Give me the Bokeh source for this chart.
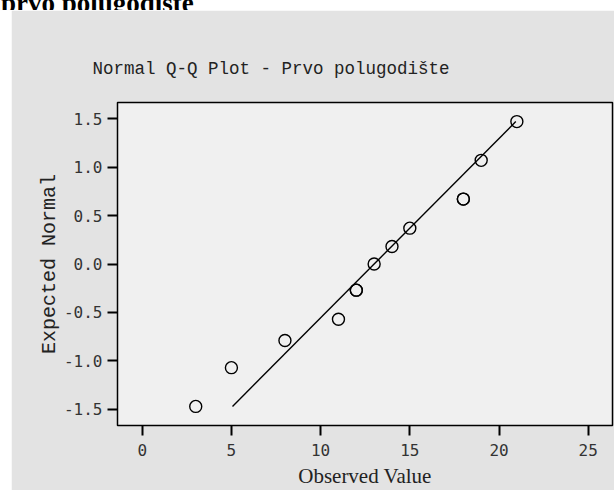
from bokeh.plotting import figure
from bokeh.models import Range1d, FixedTicker, Div, Spacer
from bokeh.layouts import column, row
from bokeh.embed import file_html
from bokeh.resources import INLINE

# ---- data ----
observed = [3, 5, 8, 11, 12, 12, 13, 14, 15, 18, 18, 19, 21]
expected = [-1.47, -1.07, -0.79, -0.57, -0.27, -0.27, 0.00, 0.18, 0.37, 0.67, 0.67, 1.07, 1.47]
line_x = [5.06, 20.94]
line_y = [-1.47, 1.47]

x_ticks = [0, 5, 10, 15, 20, 25]
x_tick_labels = ["0", "5", "10", "15", "20", "25"]
y_ticks = [-1.5, -1.0, -0.5, 0.0, 0.5, 1.0, 1.5]
y_tick_labels = ["-1.5", "-1.0", "-0.5", "0.0", "0.5", "1.0", "1.5"]

title_text = "Normal Q-Q Plot - Prvo polugodište"
heading_text = "prvo polugodište"
x_label = "Observed Value"
y_label = "Expected Normal"

PANEL = "#e3e3e3"
FRAME = "#f0f0f0"

p = figure(width=603, height=480, output_backend="svg", toolbar_location=None,
           x_range=Range1d(-1.385, 26.36), y_range=Range1d(-1.667, 1.667),
           min_border_left=106, min_border_right=2, min_border_top=92, min_border_bottom=65)
p.border_fill_color = PANEL
p.background_fill_color = FRAME
p.outline_line_color = "black"
p.outline_line_width = 1.5
p.grid.visible = False

p.title.text = title_text
p.title.text_font = "Liberation Mono"
p.title.text_font_size = "17.5px"
p.title.text_font_style = "normal"
p.title.text_color = "#222222"
p.title.align = "left"
p.title.offset = -25
p.title.standoff = 48

for ax, ticks, labels in ((p.xaxis[0], x_ticks, x_tick_labels), (p.yaxis[0], y_ticks, y_tick_labels)):
    ax.ticker = FixedTicker(ticks=ticks)
    ax.major_label_overrides = {t: l for t, l in zip(ticks, labels)}
    ax.axis_line_color = None
    ax.major_tick_in = 0
    ax.major_tick_out = 10
    ax.major_tick_line_width = 2
    ax.major_tick_line_color = "black"
    ax.minor_tick_line_color = None
    ax.major_label_text_font = "DejaVu Sans Mono"
    ax.major_label_text_font_size = "16px"
    ax.major_label_text_color = "#333333"
    ax.axis_label_text_font_style = "normal"
    ax.axis_label_text_color = "#222222"

xa = p.xaxis[0]
xa.major_label_standoff = 8
xa.axis_label = x_label
xa.axis_label_text_font = "Liberation Serif"
xa.axis_label_text_font_size = "21px"
xa.axis_label_standoff = 5

ya = p.yaxis[0]
ya.major_label_standoff = 5
ya.axis_label = y_label
ya.axis_label_text_font = "Liberation Mono"
ya.axis_label_text_font_size = "20px"
ya.axis_label_standoff = 0

p.line(line_x, line_y, line_color="black", line_width=1.4)
p.scatter(observed, expected, marker="circle", size=12, fill_color=None,
          line_color="black", line_width=1.4)

heading = Div(
    text=('<div style="font-family: \'Liberation Serif\', serif; font-weight: bold; font-size: 27px; '
          'line-height: 27px; margin: -19px 0 0 1px; padding: 0; white-space: nowrap; color: black;">'
          + heading_text + '</div>'),
    width=614, height=10, styles={"overflow": "hidden", "margin": "0", "padding": "0"})

layout = column(heading, row(Spacer(width=11, height=480), p, spacing=0), spacing=0)

open("out.html", "w").write(file_html(layout, INLINE))
